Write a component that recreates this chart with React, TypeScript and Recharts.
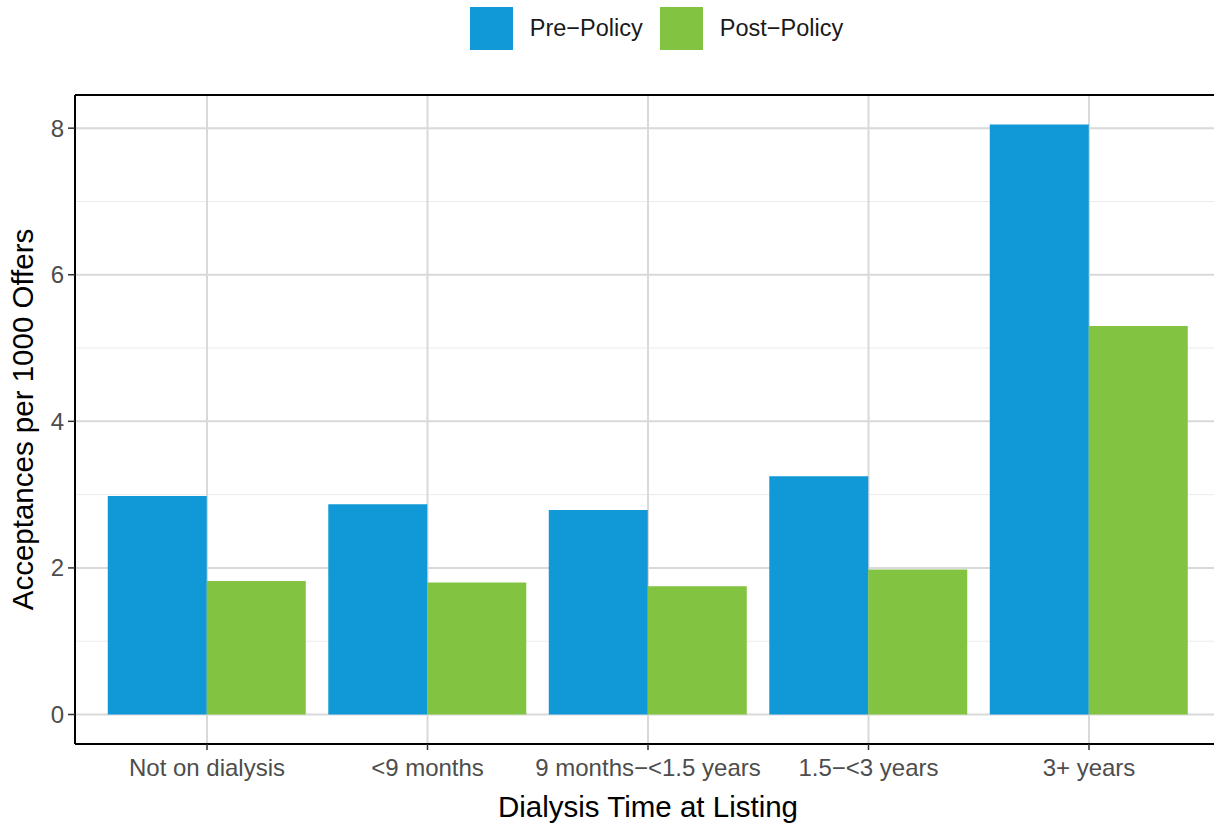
import { BarChart, Bar, XAxis, YAxis, CartesianGrid, Legend } from "recharts";

const categories = ["Not on dialysis", "<9 months", "9 months\u2212<1.5 years", "1.5\u2212<3 years", "3+ years"];
const prePolicy = [2.98, 2.87, 2.79, 3.25, 8.05];
const postPolicy = [1.82, 1.8, 1.75, 1.98, 5.3];
const seriesNames = ["Pre\u2212Policy", "Post\u2212Policy"];
const majorTicks = [0, 2, 4, 6, 8];
const minorTicks = [1, 3, 5, 7];

const PRE = "#1198D6";
const POST = "#82C341";
const FONT = "'Liberation Sans', Arial, sans-serif";
const Y_DOMAIN: [number, number] = [-0.4025, 8.4525];

const data = categories.map((c, i) => ({ name: c, pre: prePolicy[i], post: postPolicy[i] }));

// minor grid rows, placed through the y axis scale when available
function minorRows({ yAxis, offset }: any) {
  return minorTicks.map((v) => {
    if (yAxis && typeof yAxis.scale === "function") return yAxis.scale(v);
    const [lo, hi] = Y_DOMAIN;
    return offset.top + (offset.height * (hi - v)) / (hi - lo);
  });
}

function TopLegend() {
  const colors = [PRE, POST];
  return (
    <div style={{ height: 57, display: "flex", justifyContent: "center", alignItems: "flex-start", paddingTop: 7, paddingLeft: 92, boxSizing: "border-box", fontFamily: FONT }}>
      {seriesNames.map((n, i) => (
        <div key={n} style={{ display: "flex", alignItems: "center", marginLeft: i === 0 ? 0 : 17 }}>
          <div style={{ width: 43, height: 43, background: colors[i] }} />
          <span style={{ marginLeft: 17, fontSize: 23.5, color: "#1a1a1a" }}>{n}</span>
        </div>
      ))}
    </div>
  );
}

function YTitle({ viewBox }: any) {
  const cy = viewBox.y + viewBox.height / 2;
  return (
    <text x={33} y={cy} transform={`rotate(-90, 33, ${cy})`} textAnchor="middle" fill="#000" fontSize={29.5} fontFamily={FONT}>
      Acceptances per 1000 Offers
    </text>
  );
}

export default function App() {
  return (
    <div style={{ position: "absolute", left: 0, top: 0, width: 1214, height: 825, overflow: "hidden", background: "#fff" }}>
      <BarChart
        width={1240}
        height={825}
        data={data}
        margin={{ top: 37, right: 19, bottom: 0, left: 0 }}
        barCategoryGap="5%"
        barGap={0}
      >
        <CartesianGrid vertical={false} stroke="#EBEBEB" strokeWidth={1} horizontalCoordinatesGenerator={minorRows} />
        <CartesianGrid stroke="#D9D9D9" strokeWidth={2} />
        <XAxis
          dataKey="name"
          height={81}
          padding={{ left: 21.75, right: 21.75 }}
          axisLine={{ stroke: "#000", strokeWidth: 2 }}
          tickLine={{ stroke: "#333333", strokeWidth: 1.5 }}
          tickSize={6}
          tickMargin={9}
          tick={{ fill: "#4D4D4D", fontSize: 24, fontFamily: FONT }}
          interval={0}
          label={{ value: "Dialysis Time at Listing", position: "insideBottom", offset: 8, fill: "#000", fontSize: 29.5, fontFamily: FONT }}
        />
        <XAxis
          xAxisId="top"
          dataKey="name"
          orientation="top"
          height={1}
          padding={{ left: 21.75, right: 21.75 }}
          axisLine={{ stroke: "#000", strokeWidth: 2 }}
          tick={false}
          tickLine={false}
        />
        <YAxis
          width={75}
          domain={Y_DOMAIN}
          ticks={majorTicks}
          allowDataOverflow
          axisLine={{ stroke: "#000", strokeWidth: 2 }}
          tickLine={{ stroke: "#333333", strokeWidth: 1.5 }}
          tickSize={7}
          tickMargin={4}
          tick={{ fill: "#4D4D4D", fontSize: 24, fontFamily: FONT }}
          label={<YTitle />}
        />
        <Legend verticalAlign="top" align="center" wrapperStyle={{ top: 0 }} content={() => <TopLegend />} />
        <Bar dataKey="pre" name={seriesNames[0]} fill={PRE} isAnimationActive={false} />
        <Bar dataKey="post" name={seriesNames[1]} fill={POST} isAnimationActive={false} />
      </BarChart>
    </div>
  );
}
